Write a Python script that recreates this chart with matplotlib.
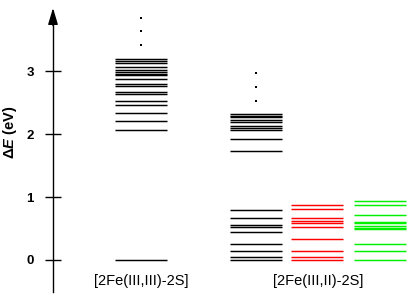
import matplotlib
matplotlib.use("Agg")
import matplotlib.pyplot as plt

plt.rcParams['font.family'] = ['Liberation Sans', 'DejaVu Sans']
plt.rcParams['mathtext.fontset'] = 'custom'
plt.rcParams['mathtext.it'] = 'Liberation Sans:bold:italic'
plt.rcParams['mathtext.rm'] = 'Liberation Sans:bold'

# Data (energy levels, eV)
categories = ["[2Fe(III,III)-2S]", "[2Fe(III,II)-2S]"]
levels_33 = [0.0, 2.06, 2.21, 2.34, 2.46, 2.53, 2.63, 2.66, 2.76, 2.80,
             2.88, 2.94, 2.96, 2.99, 3.02, 3.06, 3.13, 3.16, 3.19]
dots_33 = [3.41, 3.63, 3.84]
levels_32_black = [0.0, 0.04, 0.15, 0.26, 0.44, 0.53, 0.56, 0.66, 0.79,
                   1.73, 1.92, 2.06, 2.09, 2.13, 2.19, 2.22, 2.27, 2.29, 2.31]
dots_32 = [2.53, 2.75, 2.97]
levels_32_red = [0.0, 0.04, 0.14, 0.33, 0.53, 0.59, 0.62, 0.66, 0.81, 0.88]
levels_32_green = [0.0, 0.15, 0.26, 0.49, 0.51, 0.54, 0.58, 0.61, 0.71, 0.87, 0.94]
yticks = [0, 1, 2, 3]

fig = plt.figure(figsize=(4.15, 3.01), dpi=100)
ax = fig.add_axes([0, 0, 1, 1])
ax.set_xlim(0, 415)
ax.set_ylim(-41 / 63, 260 / 63)

hw = 26
lw = 1.05
groups = [
    (141, levels_33, 'black'),
    (256, levels_32_black, 'black'),
    (317, levels_32_red, '#ff0000'),
    (380, levels_32_green, '#00f000'),
]
for xc, lev, col in groups:
    ax.hlines(lev, xc - hw, xc + hw, colors=col, linewidth=lw)

ax.plot([141] * len(dots_33), dots_33, 's', color='black', markersize=1.6, markeredgewidth=0)
ax.plot([256] * len(dots_32), dots_32, 's', color='black', markersize=1.6, markeredgewidth=0)

# y axis
for s in ['top', 'right', 'bottom']:
    ax.spines[s].set_visible(False)
ax.spines['left'].set_position(('data', 53))
ax.spines['left'].set_bounds(-0.51, 3.75)
ax.spines['left'].set_linewidth(1.0)
ax.set_yticks(yticks)
ax.set_yticklabels([str(t) for t in yticks], fontsize=9.5, fontweight='bold')
ax.tick_params(axis='y', direction='inout', length=11.5, width=1.0, pad=8)
ax.set_xticks([])
ax.annotate('', xy=(53, 4.0), xytext=(53, 3.72),
            arrowprops=dict(arrowstyle='-|>,head_length=1.0,head_width=0.3',
                            color='black', lw=1.0, shrinkA=0, shrinkB=0))

ax.text(10, 2.02, r'Δ$\it{E}$ (eV)', rotation=90, ha='center', va='center',
        fontsize=10.5, fontweight='bold')

ax.text(141, (260 - 281) / 63, categories[0], ha='center', va='center', fontsize=10.5)
ax.text(318, (260 - 281) / 63, categories[1], ha='center', va='center', fontsize=10.5)

fig.savefig('out.png', dpi=100)
